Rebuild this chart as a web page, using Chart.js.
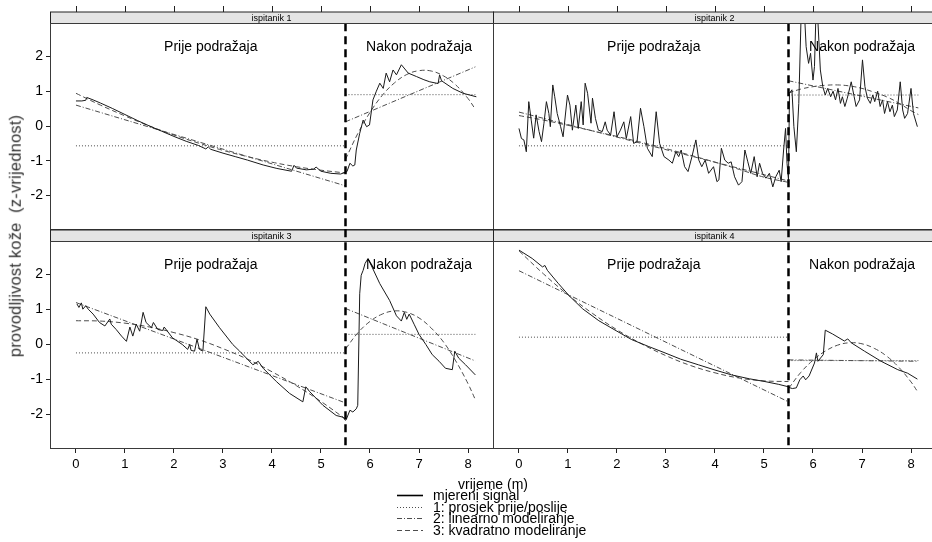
<!DOCTYPE html>
<html>
<head>
<meta charset="utf-8">
<title>provodljivost kože</title>
<script src="https://cdn.jsdelivr.net/npm/chart.js@4.4.1/dist/chart.umd.min.js"></script>
<style>
  html, body { margin: 0; padding: 0; background: #fff; overflow: hidden; }
  body { width: 932px; height: 542px; position: relative; font-family: "Liberation Sans", Arial, sans-serif; }
  canvas.panel { position: absolute; left: 0; top: 0; }
  .txt { position: absolute; white-space: pre; color: #000; line-height: 1; }
  .row { position: absolute; height: 12px; }
  .row svg { position: absolute; left: 0; top: 0; }
  .row span { position: absolute; left: 36px; top: -1px; font-size: 14px; white-space: pre; line-height: 14px; }
</style>
</head>
<body>
<canvas class="panel" id="p1" width="940" height="542"></canvas>
<canvas class="panel" id="p2" width="940" height="542"></canvas>
<canvas class="panel" id="p3" width="940" height="542"></canvas>
<canvas class="panel" id="p4" width="940" height="542"></canvas>
<div class="txt" id="ytitle">provodljivost kože  (z-vrijednost)</div>
<div class="txt" id="xtitle">vrijeme (m)</div>
<div id="legend"></div>
<script>
// ---------------------------------------------------------------
// podaci (očitani sa slike)
const subjects = ['ispitanik 1', 'ispitanik 2', 'ispitanik 3', 'ispitanik 4'];
const xTicks = [0, 1, 2, 3, 4, 5, 6, 7, 8];
const yTicks = [-2, -1, 0, 1, 2];
const phaseLabels = ['Prije podražaja', 'Nakon podražaja'];
const legendLabels = ['mjereni signal', '1: prosjek prije/poslije', '2: linearno modeliranje', '3: kvadratno modeliranje'];
const stimulusAt = 5.5;
const recordEnd = 8.15;

// ispitanik 1
const signal1 = [[0,0.72],[0.12,0.72],[0.2,0.74],[0.22,0.82],[0.35,0.75],[0.5,0.66],[0.75,0.5],[1,0.33],[1.25,0.16],[1.5,0],[1.75,-0.15],[2,-0.3],[2.25,-0.44],[2.5,-0.56],[2.65,-0.66],[2.7,-0.6],[2.75,-0.67],[3,-0.78],[3.25,-0.88],[3.5,-0.98],[3.82,-1.12],[4.1,-1.22],[4.4,-1.3],[4.45,-1.13],[4.5,-1.21],[4.7,-1.26],[4.85,-1.24],[4.9,-1.18],[5,-1.3],[5.2,-1.36],[5.4,-1.38],[5.5,-1.33],
  [5.53,-1.31],[5.59,-1.07],[5.65,-1.15],[5.69,-1.12],[5.72,-0.69],[5.79,-0.21],[5.86,0.17],[5.93,-0.02],[5.99,0.03],[6.06,0.75],[6.13,1.0],[6.2,1.23],[6.27,1.08],[6.33,1.52],[6.4,1.27],[6.47,1.61],[6.54,1.47],[6.64,1.76],[6.78,1.52],[6.95,1.42],[7.1,1.33],[7.22,1.27],[7.39,1.22],[7.42,1.47],[7.46,1.3],[7.69,1.08],[7.9,0.94],[8.17,0.84]];
const means1 = [-0.57, 0.9];
const linPre1 = [[0,0.6],[5.5,-1.72]];
const linPost1 = [[5.5,0.12],[8.15,1.7]];
const quadPre1 = [[0,0.94],[0.5,0.6],[1,0.29],[1.5,0],[2,-0.26],[2.5,-0.49],[3,-0.7],[3.5,-0.88],[4,-1.04],[4.5,-1.17],[5,-1.27],[5.5,-1.35]];
const quadPost1 = [[5.5,-0.96],[5.75,-0.22],[6,0.39],[6.25,0.88],[6.5,1.24],[6.75,1.48],[7,1.59],[7.25,1.58],[7.5,1.44],[7.75,1.18],[8,0.79],[8.15,0.48]];

// ispitanik 2
const signal2 = [[0,-0.07],[0.05,-0.36],[0.1,-0.4],[0.15,-0.74],[0.2,0.7],[0.25,0.17],[0.3,-0.35],[0.35,0.32],[0.41,-0.16],[0.46,-0.45],[0.51,0.08],[0.56,0.7],[0.61,0.36],[0.64,-0.02],[0.69,1.18],[0.73,0.84],[0.78,0.36],[0.85,-0.02],[0.9,-0.31],[0.99,0.89],[1.04,0.6],[1.09,-0.12],[1.16,0.6],[1.21,-0.07],[1.27,0.7],[1.31,0.03],[1.35,1.23],[1.4,0.94],[1.47,0.08],[1.5,0.8],[1.56,0.22],[1.62,-0.12],[1.7,-0.16],[1.76,0.12],[1.8,-0.12],[1.87,-0.26],[1.94,0.41],[2,-0.31],[2.07,-0.12],[2.14,0.12],[2.19,-0.36],[2.28,0.27],[2.34,-0.5],[2.41,-0.45],[2.48,0.51],[2.55,-0.02],[2.62,-0.64],[2.72,-0.88],[2.8,0.41],[2.87,-0.5],[2.96,-0.88],[3.06,-0.98],[3.13,-1.07],[3.2,-0.74],[3.26,-0.88],[3.31,-0.69],[3.38,-1.17],[3.45,-1.31],[3.53,-0.88],[3.61,-0.4],[3.67,-0.98],[3.73,-1.17],[3.8,-0.98],[3.87,-1.36],[3.97,-1.17],[4.04,-1.6],[4.08,-1.55],[4.13,-0.64],[4.2,-0.98],[4.27,-1.07],[4.33,-1.03],[4.4,-1.46],[4.48,-1.7],[4.55,-1.6],[4.61,-0.69],[4.67,-1.03],[4.73,-1.36],[4.8,-0.88],[4.86,-1.46],[4.91,-1.07],[4.97,-1.36],[5.04,-1.5],[5.11,-1.36],[5.18,-1.75],[5.24,-1.46],[5.31,-1.27],[5.35,-1.6],[5.4,-0.69],[5.44,-0.07],[5.47,-1.07],[5.5,-1.55],
  [5.52,0.94],[5.57,1.04],[5.61,-0.02],[5.66,-0.74],[5.71,0.65],[5.76,3.3],[5.82,3.4],[5.86,2.28],[5.91,1.8],[5.95,2.09],[6,1.32],[6.03,1.71],[6.06,3.2],[6.09,3.3],[6.15,1.61],[6.2,1.13],[6.25,0.89],[6.3,1.08],[6.36,0.84],[6.41,1.0],[6.46,0.75],[6.51,1.08],[6.56,0.65],[6.6,0.84],[6.65,0.56],[6.7,0.8],[6.78,1.27],[6.84,0.84],[6.88,0.56],[6.95,0.75],[7.01,1.9],[7.06,1.13],[7.11,0.8],[7.17,0.65],[7.22,0.89],[7.26,0.7],[7.32,1.0],[7.37,0.56],[7.42,0.75],[7.46,0.36],[7.52,0.7],[7.57,0.41],[7.62,0.6],[7.66,0.27],[7.72,0.46],[7.78,1.27],[7.83,0.46],[7.87,0.22],[7.93,0.36],[8,1.08],[8.05,0.36],[8.13,-0.02]];
const means2 = [-0.57, 0.89];
const linPre2 = [[0,0.4],[5.5,-1.58]];
const linPost2 = [[5.5,1.3],[8.15,0.52]];
const quadPre2 = [[0,0.3],[0.5,0.17],[1,0.02],[1.5,-0.14],[2,-0.3],[2.5,-0.47],[3,-0.65],[3.5,-0.84],[4,-1.04],[4.5,-1.25],[5,-1.47],[5.5,-1.62]];
const quadPost2 = [[5.5,0.95],[5.75,1.06],[6,1.13],[6.25,1.17],[6.5,1.18],[6.75,1.15],[7,1.08],[7.25,0.97],[7.5,0.84],[7.75,0.66],[8,0.44],[8.15,0.33]];

// ispitanik 3
const signal3 = [[0.02,1.16],[0.06,1.06],[0.11,1.19],[0.14,1.01],[0.2,1.11],[0.25,1.01],[0.35,0.87],[0.48,0.63],[0.59,0.53],[0.69,0.73],[0.72,0.58],[0.82,0.43],[0.93,0.24],[1.03,0.09],[1.1,0.5],[1.16,0.24],[1.23,0.58],[1.3,0.38],[1.37,0.92],[1.43,0.63],[1.54,0.48],[1.58,0.63],[1.67,0.43],[1.77,0.4],[1.8,0.5],[1.97,0.19],[2.17,0],[2.28,-0.14],[2.32,0],[2.35,-0.17],[2.42,-0.19],[2.47,0.15],[2.52,-0.14],[2.59,-0.19],[2.65,1.08],[2.73,0.87],[2.93,0.48],[3.2,0],[3.34,-0.19],[3.61,-0.58],[3.72,-0.48],[3.82,-0.68],[4.09,-1.06],[4.36,-1.4],[4.63,-1.64],[4.69,-1.21],[4.77,-1.35],[5.04,-1.74],[5.31,-2.03],[5.45,-2.08],[5.5,-2.17],
  [5.52,-2.13],[5.59,-1.88],[5.65,-1.93],[5.72,-1.84],[5.75,-1.74],[5.79,1.45],[5.82,1.98],[5.86,2.12],[5.9,2.32],[5.96,2.46],[6.2,1.74],[6.4,1.26],[6.54,0.82],[6.64,0.67],[6.7,0.92],[6.75,0.72],[6.8,0.87],[6.9,0.58],[7,0.29],[7.14,0],[7.27,-0.29],[7.41,-0.48],[7.54,-0.68],[7.68,-0.72],[7.73,-0.19],[7.81,-0.39],[7.95,-0.58],[8.15,-0.87]];
const means3 = [-0.24, 0.29];
const linPre3 = [[0,1.2],[5.5,-1.67]];
const linPost3 = [[5.5,1.03],[8.15,-0.47]];
const quadPre3 = [[0,0.68],[0.5,0.67],[1,0.61],[1.5,0.5],[2,0.34],[2.5,0.14],[3,-0.12],[3.5,-0.42],[4,-0.78],[4.5,-1.18],[5,-1.63],[5.5,-2.13]];
const quadPost3 = [[5.5,-0.13],[5.75,0.33],[6,0.66],[6.25,0.87],[6.5,0.96],[6.75,0.92],[7,0.76],[7.25,0.47],[7.5,0.07],[7.75,-0.47],[8,-1.12],[8.15,-1.58]];

// ispitanik 4
const signal4 = [[0,2.7],[0.27,2.46],[0.48,2.22],[0.53,2.26],[0.58,2.12],[0.8,1.75],[1.02,1.4],[1.3,1.02],[1.63,0.68],[2,0.38],[2.3,0.14],[2.65,-0.06],[2.98,-0.24],[3.3,-0.42],[3.66,-0.58],[4,-0.73],[4.34,-0.87],[4.7,-0.98],[5.02,-1.06],[5.3,-1.14],[5.5,-1.21],
  [5.51,-1.23],[5.58,-1.26],[5.66,-1.24],[5.73,-1.01],[5.8,-0.9],[5.85,-1.01],[5.92,-0.9],[6.03,-0.53],[6.07,-0.24],[6.1,-0.48],[6.21,-0.29],[6.25,0.41],[6.4,0.3],[6.64,0.1],[6.71,0.16],[6.78,0.05],[7.05,-0.19],[7.39,-0.48],[7.73,-0.72],[7.93,-0.82],[8.13,-0.99]];
const means4 = [0.21, -0.46];
const linPre4 = [[0,2.11],[5.5,-1.64]];
const linPost4 = [[5.5,-0.44],[8.15,-0.48]];
const quadPre4 = [[0,2.68],[0.5,2.02],[1,1.42],[1.5,0.89],[2,0.42],[2.5,0.02],[3,-0.32],[3.5,-0.6],[4,-0.81],[4.5,-0.96],[5,-1.04],[5.5,-1.06]];
const quadPost4 = [[5.5,-1.26],[5.75,-0.8],[6,-0.45],[6.25,-0.19],[6.5,-0.02],[6.75,0.05],[7,0.02],[7.25,-0.11],[7.5,-0.33],[7.75,-0.65],[8,-1.07],[8.13,-1.34]];

// ---------------------------------------------------------------
// izgled
const CANVAS_W = 940, CANVAS_H = 542;
const Y_AXIS_W = 50, X_AXIS_H = 30;
const colLeft = [50, 493], colRight = [493, 936];
const rowTop = [23, 241], rowBottom = [229, 448];
const STRIP_H = 11.5;
const SIGNAL_COLOR = '#1a1a1a', FIT_COLOR = '#4d4d4d';
const DOTTED = [1, 2], DASHDOT = [5, 2, 1, 2], DASHED = [5, 3];

Chart.defaults.font.family = '"Liberation Sans", Arial, sans-serif';
Chart.defaults.color = '#000';

const toXY = pts => pts.map(([x, y]) => ({ x, y }));

// traka s imenom ispitanika, okvir i oznake faza
const latticePanel = {
  id: 'latticePanel',
  beforeDatasetsDraw(chart, args, opts) {
    const { ctx, chartArea: a, scales: { x } } = chart;
    const st = a.top - STRIP_H;
    ctx.save();
    ctx.fillStyle = '#e4e4e4';
    ctx.fillRect(a.left + 0.5, st + 0.5, a.width, STRIP_H);
    ctx.strokeStyle = '#222';
    ctx.lineWidth = 1;
    ctx.strokeRect(a.left + 0.5, st + 0.5, a.width, STRIP_H);
    ctx.fillStyle = '#000';
    ctx.font = '9px "Liberation Sans", Arial, sans-serif';
    ctx.textAlign = 'center';
    ctx.textBaseline = 'middle';
    ctx.fillText(opts.label, (a.left + a.right) / 2, st + STRIP_H / 2 + 1);

    // gornje kvačice (samo gornji red)
    if (opts.topTicks) {
      ctx.beginPath();
      xTicks.forEach(v => {
        const px = Math.round(x.getPixelForValue(v)) + 0.5;
        ctx.moveTo(px, st + 0.5);
        ctx.lineTo(px, st - 5.5);
      });
      ctx.stroke();
    }
    ctx.restore();
  },
  afterDatasetsDraw(chart, args, opts) {
    const { ctx, chartArea: a, scales: { x, y } } = chart;
    ctx.save();
    ctx.font = '14px "Liberation Sans", Arial, sans-serif';
    ctx.fillStyle = '#000';
    ctx.textAlign = 'center';
    ctx.textBaseline = 'middle';
    ctx.fillText(phaseLabels[0], x.getPixelForValue(2.75), y.getPixelForValue(2.27));
    ctx.fillText(phaseLabels[1], x.getPixelForValue(7.0), y.getPixelForValue(2.27));

    // okvir panela
    ctx.strokeStyle = '#3a3a3a';
    ctx.lineWidth = 1;
    ctx.strokeRect(a.left + 0.5, a.top + 0.5, a.width, a.height);
    ctx.restore();
  }
};

function panelDatasets(row, signal, means, linPre, linPost, quadPre, quadPost) {
  const fit = (data, dash, extra) => Object.assign({
    data: toXY(data), borderColor: FIT_COLOR, borderWidth: 1, borderDash: dash, pointRadius: 0
  }, extra || {});
  // u donjem redu isprekidana okomica prolazi i kroz traku iznad panela
  const stimClip = row === 1 ? { left: 2, right: 2, top: STRIP_H + 1, bottom: 2 } : 2;
  return [
    { data: toXY([[stimulusAt, -4], [stimulusAt, 4]]), borderColor: '#000', borderWidth: 2.5, borderDash: [8, 5], pointRadius: 0, clip: stimClip },
    { data: toXY(signal), borderColor: SIGNAL_COLOR, borderWidth: 1, pointRadius: 0 },
    fit([[0, means[0]], [stimulusAt, means[0]]], DOTTED),
    fit([[stimulusAt, means[1]], [recordEnd, means[1]]], DOTTED),
    fit(linPre, DASHDOT),
    fit(linPost, DASHDOT),
    fit(quadPre, DASHED, { tension: 0.4 }),
    fit(quadPost, DASHED, { tension: 0.4 })
  ];
}

function makePanel(id, idx, col, row, datasets) {
  const showY = col === 0, showX = row === 1;
  const left = colLeft[col], right = colRight[col], top = rowTop[row], bottom = rowBottom[row];
  const axisGrid = { display: true, drawOnChartArea: false, drawTicks: true, tickLength: 4, color: '#222' };
  return new Chart(document.getElementById(id), {
    type: 'line',
    data: { datasets },
    options: {
      responsive: false,
      animation: false,
      layout: {
        padding: {
          left: showY ? left - Y_AXIS_W : left,
          right: CANVAS_W - right,
          top: top,
          bottom: showX ? CANVAS_H - bottom - X_AXIS_H : CANVAS_H - bottom
        }
      },
      plugins: {
        legend: { display: false },
        tooltip: { enabled: false },
        latticePanel: { label: subjects[idx], topTicks: row === 0 }
      },
      scales: {
        x: {
          type: 'linear', min: -0.53, max: 8.51, display: showX,
          afterBuildTicks: s => { s.ticks = xTicks.map(v => ({ value: v })); },
          afterFit: s => { s.height = showX ? X_AXIS_H : 0; },
          grid: Object.assign({}, axisGrid, { tickLength: 5 }),
          border: { display: false },
          ticks: { autoSkip: false, maxRotation: 0, padding: 4, color: '#000', font: { size: 13 }, callback: v => String(v) }
        },
        y: {
          type: 'linear', min: -2.96, max: 2.96, display: showY,
          afterBuildTicks: s => { s.ticks = yTicks.map(v => ({ value: v })); },
          afterFit: s => { s.width = showY ? Y_AXIS_W : 0; },
          grid: axisGrid,
          border: { display: false },
          ticks: { autoSkip: false, padding: 3, color: '#000', font: { size: 14 }, callback: v => String(v) }
        }
      }
    },
    plugins: [latticePanel]
  });
}

makePanel('p1', 0, 0, 0, panelDatasets(0, signal1, means1, linPre1, linPost1, quadPre1, quadPost1));
makePanel('p2', 1, 1, 0, panelDatasets(0, signal2, means2, linPre2, linPost2, quadPre2, quadPost2));
makePanel('p3', 2, 0, 1, panelDatasets(1, signal3, means3, linPre3, linPost3, quadPre3, quadPost3));
makePanel('p4', 3, 1, 1, panelDatasets(1, signal4, means4, linPre4, linPost4, quadPre4, quadPost4));

// naslovi osi
const yt = document.getElementById('ytitle');
yt.style.cssText = 'left:15px;top:236px;font-size:16.5px;color:#333;letter-spacing:0.2px;transform:translate(-50%,-50%) rotate(-90deg);';
const xt = document.getElementById('xtitle');
xt.style.cssText = 'left:493px;top:484px;font-size:14px;transform:translate(-50%,-50%);';

// legenda
const legendDash = [null, DOTTED, DASHDOT, DASHED];
const legend = document.getElementById('legend');
legendLabels.forEach((label, i) => {
  const row = document.createElement('div');
  row.className = 'row';
  row.style.left = '397px';
  row.style.top = (489 + i * 11.5) + 'px';
  const dash = legendDash[i] ? ' stroke-dasharray="' + legendDash[i].join(' ') + '"' : '';
  const color = i === 0 ? '#000' : FIT_COLOR;
  const w = i === 0 ? 1.6 : 1.2;
  row.innerHTML = '<svg width="26" height="12"><line x1="0" y1="6.5" x2="26" y2="6.5" stroke="' + color +
    '" stroke-width="' + w + '"' + dash + '/></svg><span>' + label + '</span>';
  legend.appendChild(row);
});
</script>
</body>
</html>
